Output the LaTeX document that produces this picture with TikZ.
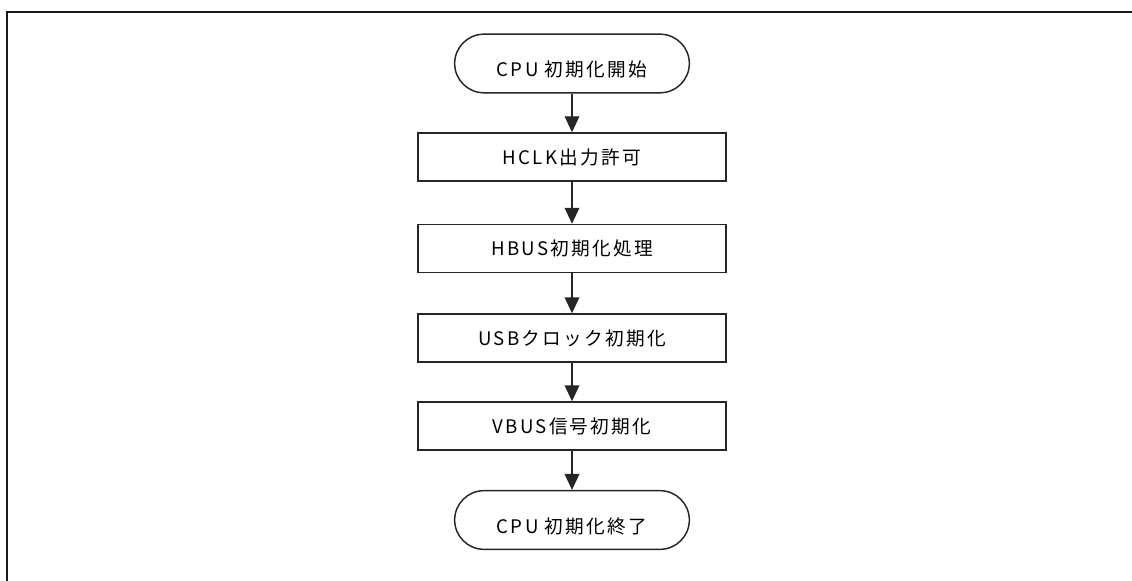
\documentclass[tikz,border=0pt]{standalone}
\usepackage{fontspec}
\setmainfont{Noto Sans CJK JP}[LetterSpace=12]
\usetikzlibrary{arrows.meta}
\tikzset{
  px/.style={x=0.75pt,y=-0.75pt},
  lbl/.style={font=\fontsize{14pt}{16pt}\selectfont},
  term/.style={lbl,draw=black!85,line width=1.1pt,rounded corners=22pt,minimum width=176pt,minimum height=44pt,inner sep=0pt,text height=19.8pt,text depth=0pt},
  proc/.style={lbl,draw=black!85,line width=1.1pt,minimum width=231pt,minimum height=36pt,inner sep=0pt,text height=10.6pt,text depth=0pt},
  flow/.style={draw=black!85,line width=1.1pt,-{Triangle[length=12pt,width=11pt]}},
  frame/.style={draw=black!90,line width=1.5pt}
}
\begin{document}
\begin{tikzpicture}[px]
\useasboundingbox (0,0) rectangle (1132,581);
\draw[frame] (7,581) -- (7,12) -- (1132,12);
\node[term] (start) at (572,63.5) {CPU 初期化開始};
\node[proc] (hclk) at (572,157) {HCLK出力許可};
\node[proc] (hbus) at (572,248.5) {HBUS初期化処理};
\node[proc] (usb) at (572,338) {USBクロック初期化};
\node[proc] (vbus) at (572,426) {VBUS信号初期化};
\node[term] (end) at (572,520) {CPU 初期化終了};
\draw[flow] (start) -- (hclk);
\draw[flow] (hclk) -- (hbus);
\draw[flow] (hbus) -- (usb);
\draw[flow] (usb) -- (vbus);
\draw[flow] (vbus) -- (end);
\end{tikzpicture}
\end{document}
